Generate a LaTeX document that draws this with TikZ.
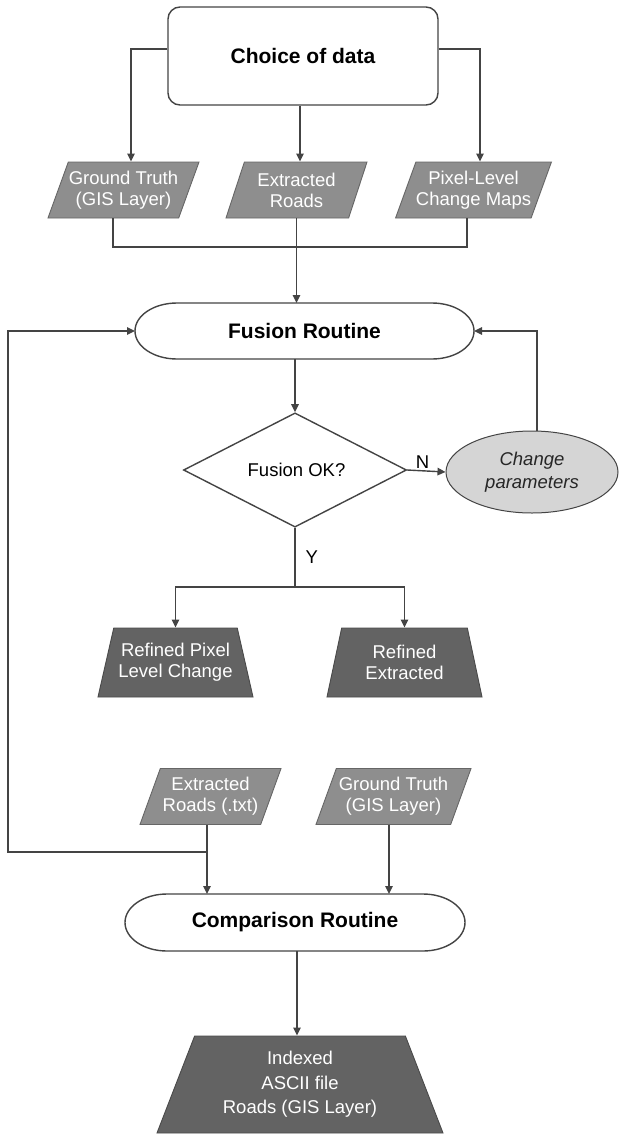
\documentclass[tikz,border=0pt]{standalone}
\usepackage{fontspec}
\setmainfont{Liberation Sans}
\usetikzlibrary{shapes.geometric,arrows.meta,calc}
\definecolor{linec}{HTML}{444444}
\definecolor{parafill}{HTML}{8E8E8E}
\definecolor{paraedge}{HTML}{666666}
\definecolor{trapfill}{HTML}{636363}
\definecolor{trapedge}{HTML}{4A4A4A}
\definecolor{ellfill}{HTML}{D5D5D5}
\begin{document}
\begin{tikzpicture}[x=1pt,y=-1pt,
  line/.style={draw=linec, line width=1.4pt},
  arr/.style={line, -{Triangle[length=8pt,width=7.5pt]}},
  rtxt/.style={font=\fontsize{18.5}{21}\selectfont, align=center},
  btxt/.style={font=\fontsize{21}{25}\selectfont\bfseries, align=center},
  para/.style={rtxt, trapezium, trapezium left angle=62, trapezium right angle=118,
    trapezium stretches body, fill=parafill, draw=paraedge, line width=0.9pt,
    text=white, inner sep=0pt, minimum height=56pt},
  trap/.style={rtxt, trapezium, trapezium stretches body, fill=trapfill,
    draw=trapedge, line width=0.9pt, text=white, inner sep=0pt},
  term/.style={btxt, rectangle, minimum height=56pt, inner sep=0pt, outer sep=0pt}]
\fill[white] (0,0) rectangle (622,1135);
\useasboundingbox (0,0) rectangle (622,1135);

% nodes
\node[btxt, draw=linec, line width=1.4pt, rounded corners=12pt, minimum width=270pt,
  minimum height=98pt] (choice) at (303,56) {Choice of data};
\node[para, minimum width=151pt] (gt1) at (123.5,190) {Ground Truth\\(GIS Layer)};
\node[para, minimum width=141pt] (er1) at (296.5,190) {Extracted\\Roads};
\node[para, minimum width=155pt] (px1) at (473.5,190) {Pixel-Level\\Change Maps};

\node[term, minimum width=339pt] (fus) at (304.5,331) {Fusion Routine};
\draw[line] ($(fus.north west)+(42,0)$) -- ($(fus.north east)+(-42,0)$)
  arc[start angle=90,end angle=-90,x radius=42pt,y radius=28pt]
  -- ($(fus.south west)+(42,0)$)
  arc[start angle=270,end angle=90,x radius=42pt,y radius=28pt] -- cycle;

\node[rtxt, diamond, draw=linec, line width=1.4pt, minimum width=223pt,
  minimum height=84pt, inner sep=0pt] (dec) at (295,470) {\hspace*{3pt}Fusion OK?};
\node[rtxt, ellipse, draw=linec, line width=1pt, fill=ellfill, minimum width=172pt,
  minimum height=82pt, inner sep=0pt, font=\fontsize{18.5}{23}\selectfont\itshape,
  text=black!85] (cp) at (532,472) {Change\\parameters};

\node[trap, trapezium angle=67.6, minimum width=155pt, minimum height=69pt]
  (rp) at (175.5,662.5) {Refined Pixel\\Level Change};
\node[trap, trapezium angle=67, minimum width=155pt, minimum height=69pt]
  (re) at (404.5,662.5) {Refined\\Extracted};

\node[para, minimum width=141pt] (er2) at (210.5,796.5) {Extracted\\Roads (.txt)};
\node[para, minimum width=155pt] (gt2) at (393.5,796.5) {Ground Truth\\(GIS Layer)};

\node[term, minimum width=340pt, minimum height=57pt] (cmp) at (295,922.5) {Comparison Routine};
\draw[line] ($(cmp.north west)+(42,0)$) -- ($(cmp.north east)+(-42,0)$)
  arc[start angle=90,end angle=-90,x radius=42pt,y radius=28.5pt]
  -- ($(cmp.south west)+(42,0)$)
  arc[start angle=270,end angle=90,x radius=42pt,y radius=28.5pt] -- cycle;

\node[trap, trapezium angle=60.4, minimum width=286pt, minimum height=97pt,
  font=\fontsize{18.5}{24.5}\selectfont] (idx) at (300,1084.5)
  {Indexed\\ASCII file\\Roads (GIS Layer)};

% connectors
\draw[arr] ([yshift=7pt]choice.west) -| ([xshift=7.5pt]gt1.north);
\draw[arr] ([xshift=-3pt]choice.south) -- ([xshift=-3pt]choice.south |- er1.north);
\draw[arr] ([yshift=7pt]choice.east) -| ([xshift=6.5pt]px1.north);
\coordinate (merge) at (296.5,247);
\draw[line] ([xshift=-10.5pt]gt1.south) |- (merge) -| ([xshift=-6.5pt]px1.south);
\draw[arr] (er1.south) -- (er1.south |- fus.north);
\draw[arr] (dec.north |- fus.south) -- (dec.north);
\draw[arr] (dec.east) -- node[above, pos=0.4, inner sep=2pt, rtxt]{N} (cp.west);
\draw[arr] ([xshift=5pt]cp.north) |- (fus.east);
\draw[line] (dec.south) -- node[right, pos=0.5, inner sep=10pt, rtxt]{Y} ++(0,59) coordinate (br);
\draw[arr] (br) -| (rp.north);
\draw[arr] (br) -| (re.north);
\coordinate (er2b) at ([xshift=-3.5pt]er2.south);
\draw[arr] (er2b) -- (er2b |- cmp.north);
\coordinate (loopc) at (8,852);
\draw[arr] (er2b |- loopc) -- (loopc) |- (fus.west);
\draw[arr] ([xshift=-4.5pt]gt2.south) -- ([xshift=-4.5pt]gt2.south |- cmp.north);
\draw[arr] ([xshift=2pt]cmp.south) -- ([xshift=2pt]cmp.south |- idx.north);
\end{tikzpicture}
\end{document}
